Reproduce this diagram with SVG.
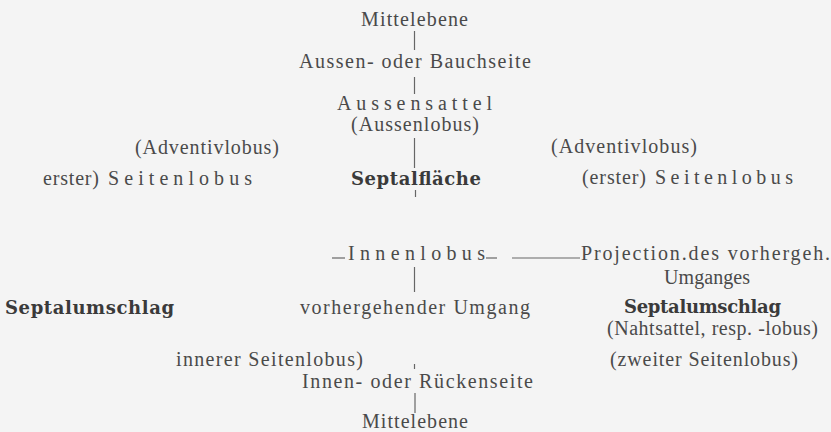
<svg xmlns="http://www.w3.org/2000/svg" width="831" height="432" viewBox="0 0 831 432">
<style>
.t{font-family:"Liberation Serif","Times New Roman",serif;font-size:20px;fill:#4a4a4a}
.b{font-family:"DejaVu Serif","Liberation Serif",serif;font-weight:bold;font-size:18px;fill:#3a3a3a}
.c{stroke:#666;stroke-width:1.2;fill:none}
</style>
<rect width="831" height="432" fill="#f4f4f4"/>
<g id="connectors">
<line class="c" x1="414.5" y1="31" x2="414.5" y2="50"/>
<line class="c" x1="414.5" y1="77" x2="414.5" y2="94"/>
<line class="c" x1="414.5" y1="138" x2="414.5" y2="168"/>
<line class="c" x1="415.5" y1="190" x2="415.5" y2="197"/>
<line class="c" x1="414.5" y1="267" x2="414.5" y2="292"/>
<line class="c" x1="414.5" y1="364" x2="414.5" y2="369"/>
<line class="c" x1="415" y1="393" x2="415" y2="413"/>
<line class="c" x1="332" y1="258" x2="345" y2="258"/>
<line class="c" x1="486" y1="258" x2="497" y2="258"/>
<line class="c" x1="512" y1="258" x2="580" y2="258"/>
</g>
<g id="mittelebene-top"><text class="t" x="361" y="26" textLength="107" lengthAdjust="spacing">Mittelebene</text></g>
<g id="aussenseite"><text class="t" x="299" y="68" textLength="232" lengthAdjust="spacing">Aussen- oder Bauchseite</text></g>
<g id="aussensattel"><text class="t" x="337" y="110" textLength="155" lengthAdjust="spacing">Aussensattel</text>
<text class="t" x="351" y="131" textLength="128" lengthAdjust="spacing">(Aussenlobus)</text></g>
<g id="adventiv-left"><text class="t" x="135" y="154" textLength="144" lengthAdjust="spacing">(Adventivlobus)</text></g>
<g id="seitenlobus-left"><text class="t" x="43" y="185" textLength="56" lengthAdjust="spacing">erster)</text>
<text class="t" x="108" y="185" textLength="144" lengthAdjust="spacing">Seitenlobus</text></g>
<g id="septalflaeche"><text class="b" x="351" y="185" textLength="130" lengthAdjust="spacing">Septalfläche</text></g>
<g id="adventiv-right"><text class="t" x="551" y="153" textLength="146" lengthAdjust="spacing">(Adventivlobus)</text></g>
<g id="seitenlobus-right"><text class="t" x="582" y="184" textLength="64" lengthAdjust="spacing">(erster)</text>
<text class="t" x="655" y="184" textLength="138" lengthAdjust="spacing">Seitenlobus</text></g>
<g id="innenlobus"><text class="t" x="348" y="260" textLength="137" lengthAdjust="spacing">Innenlobus</text></g>
<g id="projection"><text class="t" x="581" y="260" textLength="249" lengthAdjust="spacing">Projection.des vorhergeh.</text>
<text class="t" x="664" y="284" textLength="86" lengthAdjust="spacing">Umganges</text></g>
<g id="septalumschlag-left"><text class="b" x="5" y="314" textLength="169" lengthAdjust="spacing">Septalumschlag</text></g>
<g id="vorhergehender"><text class="t" x="300" y="314" textLength="230" lengthAdjust="spacing">vorhergehender Umgang</text></g>
<g id="septalumschlag-right"><text class="b" x="624" y="313" textLength="157" lengthAdjust="spacing">Septalumschlag</text>
<text class="t" x="607" y="335" textLength="211" lengthAdjust="spacing">(Nahtsattel, resp. -lobus)</text></g>
<g id="innerer-seitenlobus"><text class="t" x="176" y="366" textLength="187" lengthAdjust="spacing">innerer Seitenlobus)</text></g>
<g id="zweiter-seitenlobus"><text class="t" x="610" y="366" textLength="188" lengthAdjust="spacing">(zweiter Seitenlobus)</text></g>
<g id="innenseite"><text class="t" x="302" y="388" textLength="231" lengthAdjust="spacing">Innen- oder Rückenseite</text></g>
<g id="mittelebene-bottom"><text class="t" x="362" y="428" textLength="106" lengthAdjust="spacing">Mittelebene</text></g>
</svg>
